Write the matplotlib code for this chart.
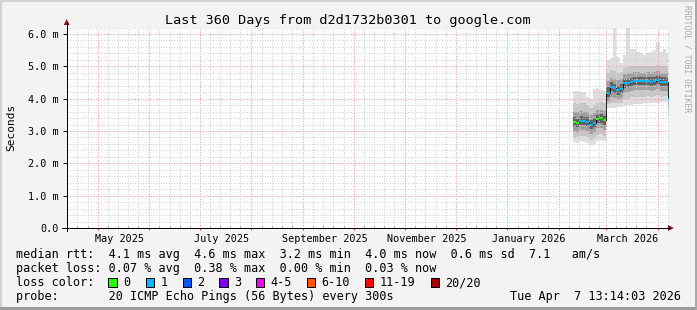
import matplotlib
matplotlib.use("Agg")
import matplotlib.pyplot as plt
import matplotlib.dates as mdates
from matplotlib.patches import Rectangle, Polygon
from matplotlib.lines import Line2D
from matplotlib.ticker import MultipleLocator, FuncFormatter, NullFormatter
import pandas as pd

# ---------------- data ----------------
title = "Last 360 Days from d2d1732b0301 to google.com"
end_time = "2026-04-07 13:14:03"
span_days = 360

dates = ["2026-02-09", "2026-02-11", "2026-02-13", "2026-02-15", "2026-02-17",
         "2026-02-19", "2026-02-21", "2026-02-23", "2026-02-25", "2026-02-27",
         "2026-03-01", "2026-03-03", "2026-03-05", "2026-03-07", "2026-03-09",
         "2026-03-11", "2026-03-13", "2026-03-15", "2026-03-17", "2026-03-19",
         "2026-03-21", "2026-03-23", "2026-03-25", "2026-03-27", "2026-03-29",
         "2026-03-31", "2026-04-02", "2026-04-04", "2026-04-06", "2026-04-07 06:00"]

median = [3.29, 3.24, 3.32, 3.31, 3.29, 3.19, 3.25, 3.37, 3.40, 3.33,
          4.17, 4.37, 4.32, 4.26, 4.31, 4.47, 4.49, 4.52, 4.55, 4.56,
          4.56, 4.56, 4.56, 4.53, 4.55, 4.58, 4.53, 4.53, 4.53, 4.00]
loss = [0, 0, 1, 1, 1, 1, 1, 0, 0, 0,
        1, 1, 1, 1, 1, 1, 1, 1, 1, 1,
        1, 1, 1, 1, 1, 1, 1, 1, 1, 1]

rtt_max = [4.25, 4.25, 4.22, 4.22, 4.05, 4.00, 4.30, 4.32, 4.28, 4.25,
           5.20, 5.25, 6.20, 5.30, 5.10, 5.35, 6.20, 5.55, 5.55, 5.45,
           5.40, 5.35, 5.40, 5.45, 5.50, 5.75, 5.45, 5.55, 5.40, 4.30]
p90 = [3.85, 3.82, 3.85, 3.85, 3.80, 3.72, 3.80, 3.88, 3.90, 3.85,
       4.80, 4.88, 4.85, 4.80, 4.82, 4.95, 4.98, 5.00, 5.02, 5.02,
       5.00, 5.00, 5.02, 5.00, 5.02, 5.05, 5.00, 5.00, 4.98, 4.15]
p75 = [3.60, 3.58, 3.62, 3.60, 3.58, 3.50, 3.56, 3.65, 3.66, 3.62,
       4.55, 4.65, 4.62, 4.57, 4.60, 4.75, 4.78, 4.80, 4.82, 4.82,
       4.80, 4.80, 4.82, 4.80, 4.82, 4.85, 4.80, 4.80, 4.78, 4.08]
p60 = [3.42, 3.38, 3.45, 3.44, 3.42, 3.33, 3.39, 3.50, 3.52, 3.46,
       4.35, 4.50, 4.46, 4.40, 4.44, 4.60, 4.62, 4.65, 4.68, 4.68,
       4.68, 4.68, 4.68, 4.66, 4.68, 4.70, 4.66, 4.66, 4.65, 4.03]
p40 = [3.16, 3.12, 3.20, 3.19, 3.16, 3.06, 3.12, 3.24, 3.26, 3.20,
       4.05, 4.24, 4.18, 4.12, 4.18, 4.34, 4.36, 4.40, 4.42, 4.43,
       4.43, 4.43, 4.43, 4.40, 4.42, 4.45, 4.40, 4.40, 4.40, 3.95]
p25 = [3.00, 2.96, 3.04, 3.02, 3.00, 2.90, 2.96, 3.08, 3.10, 3.04,
       3.92, 4.05, 4.02, 3.98, 4.02, 4.18, 4.20, 4.24, 4.26, 4.26,
       4.26, 4.26, 4.27, 4.25, 4.27, 4.30, 4.25, 4.25, 4.25, 3.80]
p10 = [2.82, 2.80, 2.85, 2.84, 2.80, 2.72, 2.78, 2.88, 2.90, 2.85,
       3.82, 3.88, 3.88, 3.86, 3.88, 3.98, 4.00, 4.04, 4.06, 4.06,
       4.06, 4.06, 4.08, 4.06, 4.08, 4.10, 4.06, 4.08, 4.08, 3.60]
rtt_min = [2.65, 2.62, 2.68, 2.66, 2.62, 2.57, 2.60, 2.70, 2.72, 2.68,
           3.70, 3.70, 3.72, 3.75, 3.75, 3.78, 3.80, 3.80, 3.82, 3.82,
           3.82, 3.85, 3.86, 3.86, 3.88, 3.88, 3.90, 3.90, 3.90, 3.45]

month_label_dates = ["2025-05-01", "2025-07-01", "2025-09-01",
                     "2025-11-01", "2026-01-01", "2026-03-01"]
month_labels = ["May 2025", "July 2025", "September 2025",
                "November 2025", "January 2026", "March 2026"]

loss_labels = ["0", "1", "2", "3", "4-5", "6-10", "11-19", "20/20"]
loss_colors = ["#26ff00", "#00b8ff", "#0059ff", "#7e00ff",
               "#ee00ee", "#ff5500", "#ff0000", "#a10000"]

line_rtt = "median rtt:  4.1 ms avg  4.6 ms max  3.2 ms min  4.0 ms now  0.6 ms sd  7.1   am/s"
line_loss = "packet loss: 0.07 % avg  0.38 % max  0.00 % min  0.03 % now"
line_color = "loss color:"
line_probe = "probe:       20 ICMP Echo Pings (56 Bytes) every 300s"
stamp = "Tue Apr  7 13:14:03 2026"
watermark = "RRDTOOL / TOBI OETIKER"
ylabel = "Seconds"

# ---------------- layout ----------------
W, H = 697, 310
MONO = "DejaVu Sans Mono"
fig = plt.figure(figsize=(W / 100, H / 100), dpi=100, facecolor="#f3f3f3")


def fx(px):
    return px / W


def fy(py):
    return 1 - py / H


PL, PR, PT, PB = 66.7, 669.0, 27.5, 228.0
ax = fig.add_axes([fx(PL), fy(PB), fx(PR) - fx(PL), fy(PT) - fy(PB)])
ax.set_facecolor("white")

end = pd.Timestamp(end_time)
start = end - pd.Timedelta(days=span_days)
ax.set_xlim(mdates.date2num(start), mdates.date2num(end))
ax.set_ylim(0, 6.2)

# smoke
xs = [mdates.date2num(pd.Timestamp(d)) for d in dates] + [mdates.date2num(end)]


def ext(a):
    return list(a) + [a[-1]]


bands = [(rtt_min, rtt_max, "#dedede"),
         (p10, p90, "#c6c6c6"),
         (p25, p75, "#a0a0a0"),
         (p40, p60, "#626262")]
for lo, hi, c in bands:
    ax.fill_between(xs, ext(lo), ext(hi), step="post", color=c, lw=0, zorder=1)

# median
ax.step(xs, ext(median), where="post", color="black", lw=0.6, zorder=3)
for i in range(len(median)):
    ax.hlines(median[i], xs[i], xs[i + 1], color=loss_colors[loss[i]],
              lw=1.44, zorder=4)

# grid
ax.set_axisbelow("line")
ax.xaxis.set_major_locator(mdates.MonthLocator())
ax.xaxis.set_minor_locator(mdates.DayLocator(bymonthday=[7, 13, 19, 25]))
ax.xaxis.set_major_formatter(NullFormatter())
ax.yaxis.set_major_locator(MultipleLocator(1.0))
ax.yaxis.set_minor_locator(MultipleLocator(0.2))
ax.yaxis.set_major_formatter(FuncFormatter(lambda v, p: "0.0" if abs(v) < 1e-9 else f"{v:.1f} m"))
ax.grid(which="minor", color="#cfcfcf", lw=0.72, ls=(0, (1, 1.6)))
ax.grid(which="major", color="#f29a9a", lw=0.72, ls=(0, (1, 1.6)))

ax.tick_params(axis="y", which="major", direction="out", length=3, width=0.72,
               color="black", pad=2.5, labelsize=7.3)
ax.tick_params(axis="y", which="minor", length=0)
ax.tick_params(axis="x", which="major", direction="out", length=1.5, width=0.72,
               color="#d04040")
ax.tick_params(axis="x", which="minor", direction="in", length=1.5, width=0.72,
               color="#999999")
for lab in ax.get_yticklabels():
    lab.set_fontfamily(MONO)

for s in ["top", "right"]:
    ax.spines[s].set_visible(False)
for s in ["left", "bottom"]:
    ax.spines[s].set_color("black")
    ax.spines[s].set_linewidth(0.72)

# month labels (baseline at pixel row 241.7)
ylab = -(241.7 - PB) / (PB - PT)
for d, lab in zip(month_label_dates, month_labels):
    xpos = mdates.date2num(pd.Timestamp(d) + pd.Timedelta(days=13))
    ax.text(xpos, ylab, lab, transform=ax.get_xaxis_transform(), ha="center",
            va="baseline", fontsize=7.3, family=MONO)

# axis extensions + arrows
fig.add_artist(Line2D([fx(62), fx(670)], [fy(PB), fy(PB)], transform=fig.transFigure,
                      color="black", lw=0.72))
fig.add_artist(Line2D([fx(PL), fx(PL)], [fy(PB + 3), fy(22)], transform=fig.transFigure,
                      color="black", lw=0.72))
fig.add_artist(Polygon([(fx(668), fy(PB - 3)), (fx(674), fy(PB)), (fx(668), fy(PB + 3))],
                       closed=True, transform=fig.transFigure, color="#8b1a1a", lw=0))
fig.add_artist(Polygon([(fx(PL - 3), fy(25)), (fx(PL), fy(19)), (fx(PL + 3), fy(25))],
                       closed=True, transform=fig.transFigure, color="#8b1a1a", lw=0))

# title, labels
fig.text(fx(347.5), fy(24), title, ha="center", va="baseline", fontsize=9.7, family=MONO)
fig.text(fx(11), fy(127), ylabel, rotation=90, ha="center", va="center",
         fontsize=8, family=MONO)
fig.text(fx(687.5), fy(5), watermark, rotation=270, ha="center", va="top",
         fontsize=5.8, family=MONO, color="#a8a8a8")

# legend
fig.text(fx(16), fy(258), line_rtt, ha="left", va="baseline", fontsize=8.5, family=MONO)
fig.text(fx(16), fy(272), line_loss, ha="left", va="baseline", fontsize=8.5, family=MONO)
fig.text(fx(16), fy(286), line_color, ha="left", va="baseline", fontsize=8.5, family=MONO)
fig.text(fx(16), fy(300), line_probe, ha="left", va="baseline", fontsize=8.5, family=MONO)
fig.text(fx(681.5), fy(300), stamp, ha="right", va="baseline", fontsize=8.5, family=MONO)

box_x = [108.3, 145.7, 182.7, 219.3, 256.0, 306.7, 365.0, 431.0]
for bx, lab, col in zip(box_x, loss_labels, loss_colors):
    fig.add_artist(Rectangle((fx(bx), fy(286.7)), fx(8.4), fy(278.3) - fy(286.7),
                             transform=fig.transFigure, facecolor=col,
                             edgecolor="black", lw=0.72))
    fig.text(fx(bx + 14.5), fy(286), lab, ha="left", va="baseline",
             fontsize=8.5, family=MONO)

# 3D frame
fig.add_artist(Rectangle((0, fy(2)), 1, fy(0) - fy(2), transform=fig.transFigure,
                         facecolor="#d2d2d2", lw=0))
fig.add_artist(Rectangle((0, 0), fx(2), 1, transform=fig.transFigure,
                         facecolor="#d2d2d2", lw=0))
fig.add_artist(Rectangle((0, 0), 1, fy(307) - fy(310), transform=fig.transFigure,
                         facecolor="#9c9c9c", lw=0))
fig.add_artist(Rectangle((fx(695), 0), fx(2), 1, transform=fig.transFigure,
                         facecolor="#a8a8a8", lw=0))

fig.savefig("out.png", dpi=100, facecolor=fig.get_facecolor())
